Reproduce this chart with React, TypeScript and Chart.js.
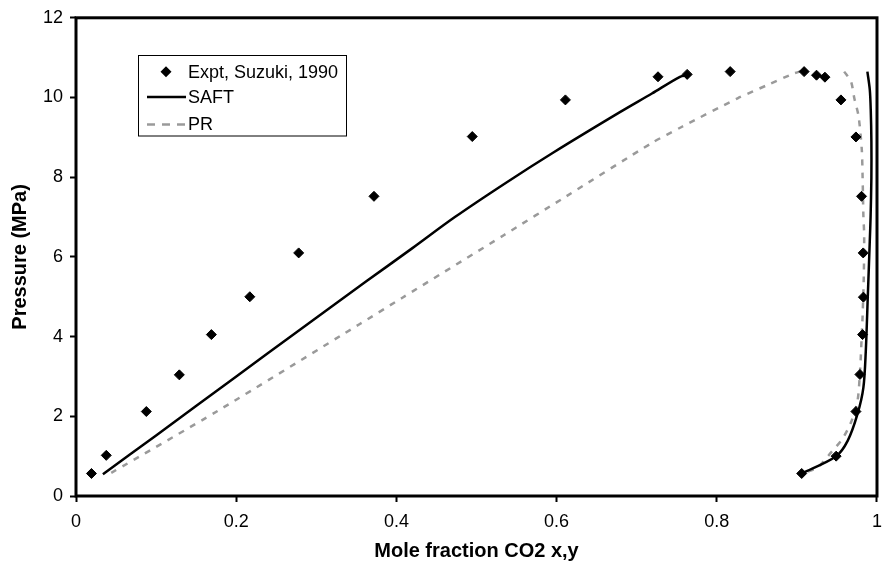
import React, { useEffect, useRef } from 'react';
import { Chart, registerables } from 'chart.js';

Chart.register(...registerables);

// Experimental data (Suzuki, 1990)
const exptX = [0.0193, 0.0378, 0.0878, 0.129, 0.169, 0.217, 0.278, 0.372, 0.4947, 0.611, 0.7266, 0.763, 0.8167, 0.909, 0.9245, 0.935, 0.955, 0.9737, 0.9807, 0.9828, 0.983, 0.982, 0.9787, 0.9737, 0.949, 0.906];
const exptY = [0.565, 1.02, 2.12, 3.04, 4.05, 5.0, 6.1, 7.52, 9.02, 9.94, 10.52, 10.58, 10.65, 10.65, 10.56, 10.51, 9.94, 9.01, 7.52, 6.1, 4.99, 4.05, 3.05, 2.12, 1.0, 0.565];

// SAFT: liquid branch and vapour branch
const saftLiqX = [0.0336, 0.1, 0.198, 0.28, 0.362, 0.42, 0.473, 0.536, 0.596, 0.678, 0.719, 0.754, 0.763];
const saftLiqY = [0.548, 1.52, 2.97, 4.18, 5.38, 6.22, 7.0, 7.85, 8.62, 9.62, 10.1, 10.52, 10.55];
const saftVapX = [0.988, 0.991, 0.9922, 0.993, 0.993, 0.992, 0.991, 0.9885, 0.986, 0.983, 0.9757, 0.9635, 0.949, 0.906];
const saftVapY = [10.65, 10.2, 9.69, 8.9, 8.0, 7.0, 6.4, 5.0, 3.63, 2.72, 2.06, 1.39, 1.0, 0.565];

// PR: liquid branch and vapour branch
const prLiqX = [0.044, 0.1773, 0.3538, 0.407, 0.5345, 0.612, 0.719, 0.756, 0.826, 0.8629, 0.8957, 0.905];
const prLiqY = [0.58, 2.14, 4.31, 4.97, 6.55, 7.52, 8.86, 9.26, 9.98, 10.31, 10.6, 10.66];
const prVapX = [0.959, 0.9676, 0.9717, 0.977, 0.981, 0.982, 0.983, 0.984, 0.9835, 0.982, 0.981, 0.979, 0.9757, 0.9676, 0.957, 0.943, 0.9265, 0.912];
const prVapY = [10.65, 10.4, 9.98, 9.53, 8.7, 8.03, 7.04, 6.54, 5.5, 4.5, 4.05, 3.2, 2.39, 1.85, 1.44, 1.1, 0.73, 0.6];

const xTicks = [0, 0.2, 0.4, 0.6, 0.8, 1];
const xTickLabels = ['0', '0.2', '0.4', '0.6', '0.8', '1'];
const yTicks = [0, 2, 4, 6, 8, 10, 12];
const yTickLabels = ['0', '2', '4', '6', '8', '10', '12'];

const seriesNames = ['Expt, Suzuki, 1990', 'SAFT', 'PR'];
const xTitle = 'Mole fraction CO2 x,y';
const yTitle = 'Pressure (MPa)';

const FONT = '"Liberation Sans", Arial, sans-serif';
const PR_COLOR = '#9a9a9a';

const zip = (xs: number[], ys: number[]) => xs.map((x, i) => ({ x, y: ys[i] as number | null }));

const framePlugin = {
  id: 'frame',
  afterDatasetsDraw(chart: any) {
    const { ctx, chartArea } = chart;
    const { left, top, right, bottom } = chartArea;
    ctx.save();
    ctx.strokeStyle = '#000';
    ctx.lineWidth = 3;
    ctx.strokeRect(left, top, right - left, bottom - top);
    ctx.restore();
  },
};

const legendPlugin = {
  id: 'customLegend',
  afterDraw(chart: any) {
    const { ctx } = chart;
    const bx = 138, by = 55.5, bw = 208, bh = 80.5;
    ctx.save();
    ctx.fillStyle = '#fff';
    ctx.fillRect(bx, by, bw, bh);
    ctx.strokeStyle = '#000';
    ctx.lineWidth = 1;
    ctx.strokeRect(bx + 0.5, by, bw, bh);
    const rows = [71.7, 97, 124.5];
    // marker
    ctx.fillStyle = '#000';
    ctx.beginPath();
    const mx = 166, my = rows[0], r = 5.5;
    ctx.moveTo(mx - r, my);
    ctx.lineTo(mx, my - r);
    ctx.lineTo(mx + r, my);
    ctx.lineTo(mx, my + r);
    ctx.closePath();
    ctx.fill();
    // SAFT line
    ctx.strokeStyle = '#000';
    ctx.lineWidth = 2.5;
    ctx.beginPath();
    ctx.moveTo(147, rows[1]);
    ctx.lineTo(186, rows[1]);
    ctx.stroke();
    // PR dashed
    ctx.strokeStyle = PR_COLOR;
    ctx.setLineDash([8, 7]);
    ctx.beginPath();
    ctx.moveTo(147, rows[2]);
    ctx.lineTo(186, rows[2]);
    ctx.stroke();
    ctx.setLineDash([]);
    // text
    ctx.fillStyle = '#000';
    ctx.font = `18px ${FONT}`;
    ctx.textBaseline = 'middle';
    ctx.textAlign = 'left';
    seriesNames.forEach((name, i) => ctx.fillText(name, 188, rows[i] + 1));
    ctx.restore();
  },
};

export default function App() {
  const canvasRef = useRef<HTMLCanvasElement | null>(null);

  useEffect(() => {
    document.body.style.margin = '0';
    const canvas = canvasRef.current;
    if (!canvas) return;

    const saftData = [...zip(saftLiqX, saftLiqY), { x: 0.87, y: null }, ...zip(saftVapX, saftVapY)];
    const prData = [...zip(prLiqX, prLiqY), { x: 0.93, y: null }, ...zip(prVapX, prVapY)];

    const chart = new Chart(canvas, {
      type: 'line',
      data: {
        datasets: [
          {
            label: seriesNames[0],
            data: zip(exptX, exptY),
            showLine: false,
            pointStyle: 'rectRot',
            pointRadius: 5,
            pointBorderWidth: 1,
            pointBackgroundColor: '#000',
            pointBorderColor: '#000',
            order: 0,
          },
          {
            label: seriesNames[1],
            data: saftData,
            borderColor: '#000',
            borderWidth: 2.5,
            pointRadius: 0,
            tension: 0.3,
            spanGaps: false,
            fill: false,
            order: 1,
          },
          {
            label: seriesNames[2],
            data: prData,
            borderColor: PR_COLOR,
            borderWidth: 2.5,
            borderDash: [6, 7],
            pointRadius: 0,
            tension: 0.25,
            spanGaps: false,
            fill: false,
            order: 2,
          },
        ] as any,
      },
      options: {
        animation: false,
        responsive: false,
        devicePixelRatio: 1,
        layout: { padding: { top: 14, right: 3, left: 0, bottom: 0 } },
        plugins: {
          legend: { display: false },
          tooltip: { enabled: false },
        },
        events: [],
        scales: {
          x: {
            type: 'linear',
            min: 0,
            max: 1,
            afterBuildTicks: (scale: any) => {
              scale.ticks = xTicks.map((v) => ({ value: v }));
            },
            afterFit: (scale: any) => {
              scale.height = 70;
            },
            ticks: {
              color: '#000',
              padding: 9,
              maxRotation: 0,
              autoSkip: false,
              font: { family: FONT, size: 18 },
              callback: (_v: any, i: number) => xTickLabels[i],
            },
            grid: {
              display: true,
              drawOnChartArea: false,
              drawTicks: true,
              tickLength: 6,
              tickColor: '#000',
              tickWidth: 2,
              color: '#000',
            },
            border: { display: false },
            title: {
              display: true,
              text: xTitle,
              color: '#000',
              font: { family: FONT, size: 20, weight: 'bold' },
              padding: { top: 0, bottom: 3 },
            },
          },
          y: {
            type: 'linear',
            min: 0,
            max: 12,
            afterBuildTicks: (scale: any) => {
              scale.ticks = yTicks.map((v) => ({ value: v }));
            },
            afterFit: (scale: any) => {
              scale.width = 76;
            },
            ticks: {
              color: '#000',
              padding: 7,
              autoSkip: false,
              font: { family: FONT, size: 18 },
              callback: (_v: any, i: number) => yTickLabels[i],
            },
            grid: {
              display: true,
              drawOnChartArea: false,
              drawTicks: true,
              tickLength: 6,
              tickColor: '#000',
              tickWidth: 2,
              color: '#000',
            },
            border: { display: false },
            title: {
              display: true,
              text: yTitle,
              color: '#000',
              font: { family: FONT, size: 20, weight: 'bold' },
              padding: { top: 8, bottom: 0 },
            },
          },
        },
      } as any,
      plugins: [framePlugin, legendPlugin],
    });

    return () => chart.destroy();
  }, []);

  return (
    <canvas
      ref={canvasRef}
      width={891}
      height={566}
      style={{ position: 'absolute', left: 0, top: 0, width: 891, height: 566 }}
    />
  );
}
